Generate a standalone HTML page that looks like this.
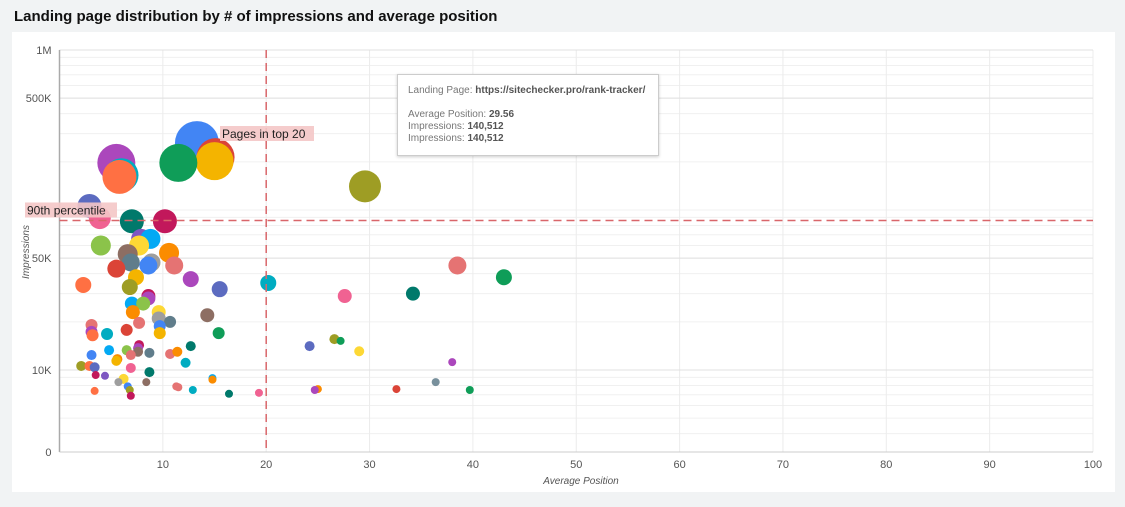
<!DOCTYPE html>
<html><head><meta charset="utf-8">
<style>
body{margin:0;width:1125px;height:507px;background:#f1f3f4;font-family:"Liberation Sans",Arial,sans-serif;overflow:hidden;position:relative}
#title{position:absolute;left:14px;top:8px;font-size:15px;font-weight:bold;color:#111}
#card{position:absolute;left:12px;top:32px;width:1103px;height:460px;background:#fff}
svg{position:absolute;left:0;top:0}
#tip{position:absolute;left:397px;top:74px;width:262px;height:82px;background:#fff;border:1px solid #ccc;box-shadow:0 1px 3px rgba(0,0,0,.2);font-size:10px;color:#777;line-height:12px;box-sizing:border-box;padding:10px 10px}
#tip b{color:#555}
</style></head><body>
<div id="title">Landing page distribution by # of impressions and average position</div>
<div id="card"></div>
<svg id="chart" width="1125" height="507"></svg>
<div id="tip">Landing Page: <b>https://sitechecker.pro/rank-tracker/</b><br><br>Average Position: <b>29.56</b><br>Impressions: <b>140,512</b><br>Impressions: <b>140,512</b></div>
<script>
const positions=[13.3,15.1,15.0,11.5,5.5,6.0,5.8,29.56,2.9,3.9,7.0,10.2,7.9,8.8,4.0,7.7,6.6,10.6,8.9,6.9,8.6,11.1,5.5,12.7,2.3,7.4,20.2,15.5,6.8,8.6,8.6,7.0,8.1,9.6,7.1,14.3,9.6,10.7,7.7,3.1,3.1,3.2,4.6,6.5,15.4,9.7,9.7,12.7,7.7,7.6,6.5,8.7,7.6,6.9,10.7,11.4,3.1,4.8,5.6,5.5,2.1,2.9,3.4,12.2,6.9,8.7,3.5,4.4,6.2,5.7,6.6,6.8,6.9,8.4,11.3,11.5,12.9,3.4,14.8,14.8,16.4,19.3,24.2,26.6,27.2,29.0,38.5,43.0,27.6,34.2,25.0,24.7,32.6,36.4,39.7,38.0];
const impressions=[262000,214000,202000,197000,197000,165000,161000,140512,106000,89000,85000,85000,66000,66000,60000,60000,53000,54000,47000,47000,45000,45000,43000,37000,34000,38000,35000,32000,33000,29000,28000,26000,26000,23000,23000,22000,21000,20000,19700,19100,17300,16500,16800,17800,17000,18800,17000,14100,14300,13700,13300,12800,13000,12400,12600,13000,12400,13300,11700,11400,10600,10600,10400,11100,10300,9700,9300,9200,8800,8400,7900,7500,6900,8400,7900,7800,7500,7400,8900,8700,7100,7200,14100,15600,15200,13100,45000,38000,29000,30000,7600,7500,7600,8400,7500,11200];
const sizes=[22,19,19,19,19,17,17,16,12,11,12,12,10,10,10,10,10,10,9,9,9,9,9,8,8,8,8,8,8,7,7,7,7,7,7,7,7,6,6,6,6,6,6,6,6,6,6,5,5,5,5,5,5,5,5,5,5,5,5,5,5,5,5,5,5,5,4,4,5,4,4,4,4,4,4,4,4,4,4,4,4,4,5,5,4,5,9,8,7,7,4,4,4,4,4,4];
const colors=["#4285f4","#db4437","#f4b400","#0f9d58","#ab47bc","#00acc1","#ff7043","#9e9d24","#5c6bc0","#f06292","#00796b","#c2185b","#7e57c2","#03a9f4","#8bc34a","#fdd835","#8d6e63","#fb8c00","#9e9e9e","#607d8b","#4285f4","#e57373","#db4437","#ab47bc","#ff7043","#f4b400","#00acc1","#5c6bc0","#9e9d24","#c2185b","#ab47bc","#03a9f4","#8bc34a","#fdd835","#fb8c00","#8d6e63","#9e9e9e","#607d8b","#e57373","#e57373","#ab47bc","#ff7043","#00acc1","#db4437","#0f9d58","#4285f4","#f4b400","#00796b","#c2185b","#ab47bc","#8bc34a","#607d8b","#8d6e63","#e57373","#e57373","#fb8c00","#4285f4","#03a9f4","#fb8c00","#f4b400","#9e9d24","#ff7043","#5c6bc0","#00acc1","#f06292","#00796b","#c2185b","#7e57c2","#fdd835","#9e9e9e","#4285f4","#9e9d24","#c2185b","#8d6e63","#e57373","#e57373","#00acc1","#ff7043","#03a9f4","#fb8c00","#00796b","#f06292","#5c6bc0","#9e9d24","#0f9d58","#fdd835","#e57373","#0f9d58","#f06292","#00796b","#fb8c00","#ab47bc","#db4437","#78909c","#0f9d58","#ab47bc"];
const xTicks=[10,20,30,40,50,60,70,80,90,100];
const yTicks=[10000,50000,500000,1000000];
const yTickLabels=["10K","50K","500K","1M"];
const percentile90=86000, top20=20;

const NS="http://www.w3.org/2000/svg", svg=document.getElementById('chart');
const X0=59.5,X1=1093,Y0=452,YT=50;
const xS=v=>X0+(v/100)*(X1-X0);
const yS=v=>v<=0?Y0:370-160*Math.log10(v/10000);
function el(t,a,p){const e=document.createElementNS(NS,t);for(const k in a)e.setAttribute(k,a[k]);(p||svg).appendChild(e);return e;}
// minor grid
for(let d=1000;d<1000000;d*=10){for(let m=1;m<10;m++){const v=d*m;if(v<3000)continue;const y=yS(v);if(y>Y0||y<YT)continue;
const g=el('line',{x1:X0,x2:X1,y1:y,y2:y,stroke:'#f0f0f0','stroke-width':1});}}
el('line',{x1:X0,x2:X1,y1:YT,y2:YT,stroke:'#e6e6e6'});
xTicks.forEach(t=>{const x=xS(t);
const g=el('line',{x1:x,x2:x,y1:YT,y2:Y0,stroke:'#ececec'});
const tx=el('text',{x:x,y:468,'font-size':11,fill:'#555','text-anchor':'middle'});tx.textContent=t;});
yTicks.forEach((t,i)=>{const y=yS(t);
const g=el('line',{x1:X0,x2:X1,y1:y,y2:y,stroke:'#e0e0e0'});
const tx=el('text',{x:X0-8,y:y+4,'font-size':11,fill:'#555','text-anchor':'end'});tx.textContent=yTickLabels[i];});
const z=el('text',{x:X0-8,y:Y0+4,'font-size':11,fill:'#555','text-anchor':'end'});z.textContent='0';
const ax=el('line',{x1:X0,x2:X0,y1:YT,y2:Y0,stroke:'#aaa','stroke-width':1.5});
const bx=el('line',{x1:X0,x2:X1,y1:Y0,y2:Y0,stroke:'#ccc'});
// bubbles (largest first)
const idx=positions.map((_,i)=>i).sort((a,b)=>sizes[b]-sizes[a]);
idx.forEach(i=>{const c=el('circle',{cx:xS(positions[i]),cy:yS(impressions[i]),r:sizes[i],fill:colors[i]});

});
// reference lines
const vy=yS(percentile90), vx=xS(top20);
const h=el('line',{x1:X0,x2:X1,y1:vy,y2:vy,stroke:'#d9666a','stroke-width':1.5,'stroke-dasharray':'8,5'});
const v=el('line',{x1:vx,x2:vx,y1:YT,y2:Y0,stroke:'#d9666a','stroke-width':1.5,'stroke-dasharray':'8,5'});
function lab(x,y,w,t,n){const r=el('rect',{x:x,y:y-12,width:w,height:15,fill:'#f4c7c7',opacity:.9});
const tx=el('text',{x:x+2,y:y,'font-size':12,fill:'#222'});tx.textContent=t;}
lab(25,vy-6,92,'90th percentile','percentile-label');
lab(220,138,94,'Pages in top 20','top20-label');
const yt=el('text',{transform:'translate(29,252) rotate(-90)','font-size':10,'font-style':'italic',fill:'#555','text-anchor':'middle'});yt.textContent='Impressions';
const xt=el('text',{x:581,y:484,'font-size':10,'font-style':'italic',fill:'#555','text-anchor':'middle'});xt.textContent='Average Position';
</script>
</body></html>
